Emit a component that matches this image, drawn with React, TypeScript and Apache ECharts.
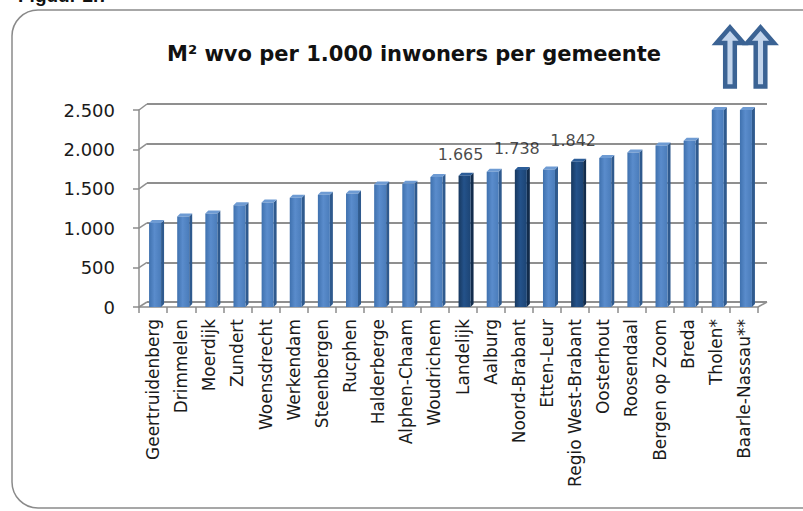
import React, { useEffect, useRef } from "react";
import * as echarts from "echarts";

const categories = [
  "Geertruidenberg", "Drimmelen", "Moerdijk", "Zundert", "Woensdrecht", "Werkendam",
  "Steenbergen", "Rucphen", "Halderberge", "Alphen-Chaam", "Woudrichem", "Landelijk",
  "Aalburg", "Noord-Brabant", "Etten-Leur", "Regio West-Brabant", "Oosterhout",
  "Roosendaal", "Bergen op Zoom", "Breda", "Tholen*", "Baarle-Nassau**",
];
const values = [
  1065, 1150, 1185, 1290, 1325, 1385, 1425, 1440, 1555, 1565, 1650, 1665,
  1715, 1738, 1745, 1842, 1890, 1960, 2050, 2110, 2500, 2500,
];
const highlighted = ["Landelijk", "Noord-Brabant", "Regio West-Brabant"];
const yTicks = [0, 500, 1000, 1500, 2000, 2500];
const titleText = "M² wvo per 1.000 inwoners per gemeente";
const figureText = "Figuur 2.7";

const fmt = (n: number) => String(Math.round(n)).replace(/\B(?=(\d{3})+(?!\d))/g, ".");

const FRONT = { left: 139, right: 45, top: 110, bottom: 204 };
const BACK = { left: 147, right: 36, top: 104, bottom: 209 };
const FONT = "DejaVu Sans";

function arrow(cx: number) {
  const top = 27.5, headBase = 43, bottom = 86.5, hw = 13.5, sw = 4.8;
  return {
    type: "polygon",
    shape: {
      points: [
        [cx, top], [cx + hw, headBase], [cx + sw, headBase], [cx + sw, bottom],
        [cx - sw, bottom], [cx - sw, headBase], [cx - hw, headBase],
      ],
    },
    style: { fill: "#c3d5ec", stroke: "#3b6394", lineWidth: 4.5 },
  };
}

export default function App() {
  const ref = useRef<HTMLDivElement>(null);
  useEffect(() => {
    if (!ref.current) return;
    const chart = echarts.init(ref.current, null, { renderer: "svg" });
    const barData = values.map((v, i) => [i, v]);
    const labelData = categories
      .map((c, i) => (highlighted.includes(c) ? [c, values[i]] : null))
      .filter((d) => d !== null);

    chart.setOption({
      animation: false,
      backgroundColor: "#ffffff",
      title: {
        text: titleText,
        left: 162,
        top: 38,
        textStyle: { fontFamily: FONT, fontSize: 21, fontWeight: "bold", color: "#111" },
      },
      grid: [
        { ...FRONT, containLabel: false },
        { ...BACK, containLabel: false },
      ],
      xAxis: [
        {
          type: "category",
          gridIndex: 0,
          data: categories,
          axisLine: { lineStyle: { color: "#8c8c8c", width: 1.5 } },
          axisTick: { show: true, interval: 0, length: 6, lineStyle: { color: "#8c8c8c", width: 1.5 } },
          axisLabel: {
            rotate: 90,
            interval: 0,
            margin: 12,
            fontFamily: FONT,
            fontSize: 17,
            color: "#1a1a1a",
          },
        },
        { type: "value", gridIndex: 1, show: false, min: 0, max: 1 },
      ],
      yAxis: [
        {
          type: "value",
          gridIndex: 0,
          min: 0,
          max: 2500,
          interval: 500,
          axisLine: { show: true, lineStyle: { color: "#8c8c8c", width: 1.5 } },
          axisTick: { show: true, length: 6, lineStyle: { color: "#8c8c8c", width: 1.5 } },
          splitLine: { show: false },
          axisLabel: {
            formatter: (v: number) => fmt(v),
            margin: 24,
            fontFamily: FONT,
            fontSize: 18,
            color: "#1a1a1a",
          },
        },
        {
          type: "value",
          gridIndex: 1,
          min: 0,
          max: 2500,
          interval: 500,
          axisLine: { show: false },
          axisTick: { show: false },
          axisLabel: { show: false },
          splitLine: { show: true, lineStyle: { color: "#8f8f8f", width: 2 } },
        },
      ],
      series: [
        {
          type: "custom",
          xAxisIndex: 0,
          yAxisIndex: 0,
          data: barData,
          encode: { x: 0, y: 1 },
          z: 5,
          renderItem: (params: any, api: any) => {
            const idx = api.value(0);
            const val = api.value(1);
            const top = api.coord([idx, val]);
            const base = api.coord([idx, 0]);
            const bw = 12;
            const d = 3;
            const x0 = top[0] - bw / 2 + 2;
            const hi = highlighted.includes(categories[idx]);
            const front = hi
              ? new echarts.graphic.LinearGradient(0, 0, 1, 0, [
                  { offset: 0, color: "#17385f" },
                  { offset: 0.45, color: "#24528a" },
                  { offset: 1, color: "#1c4474" },
                ])
              : new echarts.graphic.LinearGradient(0, 0, 1, 0, [
                  { offset: 0, color: "#3f71ae" },
                  { offset: 0.45, color: "#5a8ccc" },
                  { offset: 1, color: "#4a7cba" },
                ]);
            const side = hi ? "#122c4c" : "#2f5a8e";
            const topc = hi ? "#2c5d98" : "#6e9bd3";
            return {
              type: "group",
              children: [
                {
                  type: "polygon",
                  shape: {
                    points: [
                      [x0 + bw, top[1]], [x0 + bw + d, top[1] - d],
                      [x0 + bw + d, base[1] - d], [x0 + bw, base[1]],
                    ],
                  },
                  style: { fill: side },
                },
                {
                  type: "polygon",
                  shape: {
                    points: [
                      [x0, top[1]], [x0 + d, top[1] - d],
                      [x0 + bw + d, top[1] - d], [x0 + bw, top[1]],
                    ],
                  },
                  style: { fill: topc },
                },
                {
                  type: "rect",
                  shape: { x: x0, y: top[1], width: bw, height: base[1] - top[1] },
                  style: { fill: front },
                },
              ],
            };
          },
        },
        {
          type: "scatter",
          xAxisIndex: 0,
          yAxisIndex: 0,
          data: labelData,
          symbolSize: 1,
          itemStyle: { color: "rgba(0,0,0,0)" },
          z: 6,
          label: {
            show: true,
            position: "top",
            distance: 13,
            offset: [-2, 0],
            formatter: (p: any) => fmt(p.value[1]),
            fontFamily: FONT,
            fontSize: 16,
            color: "#1a1a1a",
          },
        },
      ],
    });

    const diag: any[] = [];
    yTicks.forEach((v) => {
      const yf = chart.convertToPixel({ yAxisIndex: 0 } as any, v) as number;
      const yb = chart.convertToPixel({ yAxisIndex: 1 } as any, v) as number;
      diag.push({
        type: "line",
        shape: { x1: FRONT.left, y1: yf, x2: BACK.left, y2: yb },
        style: { stroke: "#8f8f8f", lineWidth: 1.5 },
      });
    });
    const yf0 = chart.convertToPixel({ yAxisIndex: 0 } as any, 0) as number;
    const yb0 = chart.convertToPixel({ yAxisIndex: 1 } as any, 0) as number;
    diag.push({
      type: "line",
      shape: { x1: 803 - FRONT.right, y1: yf0, x2: 803 - BACK.right, y2: yb0 },
      style: { stroke: "#8f8f8f", lineWidth: 1.5 },
    });

    chart.setOption({
      graphic: [
        {
          type: "rect",
          z: -1,
          shape: { x: 12, y: 10, width: 815, height: 498, r: 26 },
          style: { fill: "none", stroke: "#8a8a8a", lineWidth: 1.5 },
        },
        {
          type: "text",
          x: 18,
          y: -14,
          style: {
            text: figureText,
            fontFamily: "Liberation Sans",
            fontSize: 19,
            fontWeight: "bold",
            fill: "#111",
            textVerticalAlign: "top",
          },
        },
        arrow(730),
        arrow(760.5),
        ...diag,
      ],
    });

    return () => chart.dispose();
  }, []);

  return (
    <div
      ref={ref}
      style={{ position: "fixed", left: 0, top: 0, width: 803, height: 511, background: "#fff" }}
    />
  );
}
